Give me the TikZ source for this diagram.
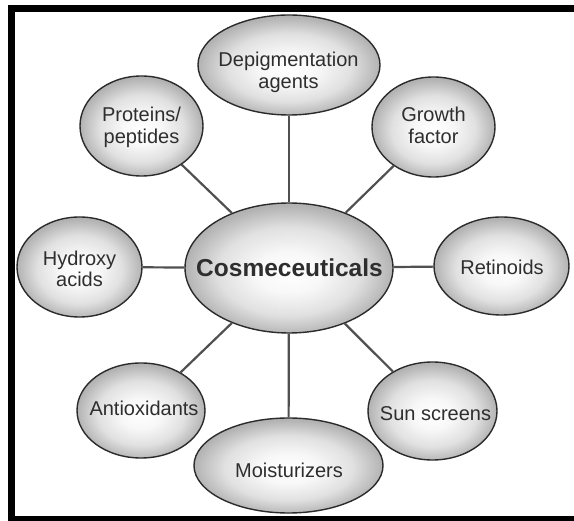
\documentclass[tikz,border=0pt]{standalone}
\usepackage{fontspec}
\setmainfont{Liberation Sans}
\usetikzlibrary{shapes.geometric}
\definecolor{txtc}{HTML}{2E2E2E}
\definecolor{edgec}{HTML}{2B2B2B}
\definecolor{connc}{HTML}{505050}
\pgfdeclareradialshading{bubshade}{\pgfpoint{0bp}{-2bp}}{%
  color(0bp)=(white);
  color(8bp)=(white!97!black);
  color(17bp)=(white!88!black);
  color(25bp)=(white!70!black);
  color(50bp)=(white!70!black)}
\tikzset{
  bubble/.style={ellipse, draw=edgec, line width=1.4pt, inner sep=0pt,
    shading=bubshade},
  bubbletext/.style={align=center, text=txtc, inner sep=0pt,
    font=\fontsize{20}{21.5}\selectfont},
  hubtext/.style={align=center, text=txtc, inner sep=0pt,
    font=\fontsize{24.5}{26}\selectfont\bfseries},
  conn/.style={draw=connc, line width=2.2pt},
  frame/.style={draw=black, line width=7pt}
}
\begin{document}
\begin{tikzpicture}[x=1pt, y=-1pt]
\clip (0,0) rectangle (574,521);
\fill[white] (0,0) rectangle (574,521);
\draw[frame] (11.5,9) rectangle (590,519.5);

% ellipses
\node[bubble, minimum width=208pt, minimum height=130pt] (cos) at (289,268) {};
\node[bubble, minimum width=182pt, minimum height=100pt] (dep) at (289,65) {};
\node[bubble, minimum width=123pt, minimum height=100pt] (prot) at (141.5,126) {};
\node[bubble, minimum width=123pt, minimum height=100pt] (grow) at (433.5,127) {};
\node[bubble, minimum width=125pt, minimum height=100pt] (hyd) at (79.5,267) {};
\node[bubble, minimum width=135pt, minimum height=98pt] (ret) at (501.5,266) {};
\node[bubble, minimum width=128pt, minimum height=95pt] (anti) at (141,410.5) {};
\node[bubble, minimum width=189pt, minimum height=95pt] (moist) at (288.5,465.5) {};
\node[bubble, minimum width=129pt, minimum height=98pt] (sun) at (432.5,411) {};

% connectors
\draw[conn] (dep) -- (cos);
\draw[conn] (prot) -- (cos);
\draw[conn] (grow) -- (cos);
\draw[conn] (hyd) -- (cos);
\draw[conn] (ret) -- (cos);
\draw[conn] (anti) -- (cos);
\draw[conn] (moist) -- (cos);
\draw[conn] (sun) -- (cos);

% texts
\node[hubtext] (cost) at (289.5,268) {Cosmeceuticals};
\node[bubbletext] (dept) at (288.5,72.5) {Depigmentation\\agents};
\node[bubbletext] (prott) at (141.5,127.5) {Proteins/\\peptides};
\node[bubbletext] (growt) at (433.5,125.5) {Growth\\factor};
\node[bubbletext] (hydt) at (79.5,269) {Hydroxy\\acids};
\node[bubbletext] (rett) at (502,267) {Retinoids};
\node[bubbletext] (antit) at (144,408) {Antioxidants};
\node[bubbletext] (moistt) at (289,470) {Moisturizers};
\node[bubbletext] (sunt) at (435.5,414) {Sun screens};
\end{tikzpicture}
\end{document}
